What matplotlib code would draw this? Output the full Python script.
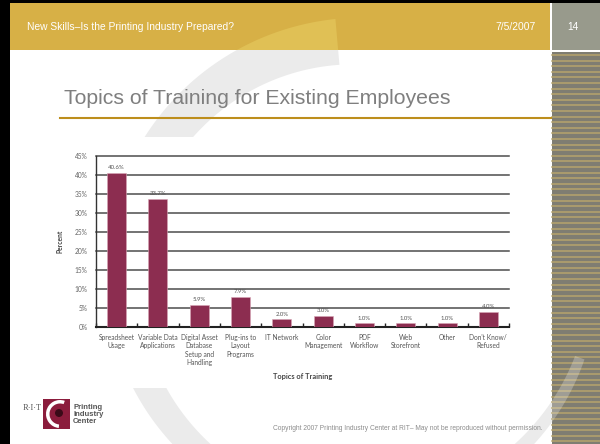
import numpy as np
import matplotlib.pyplot as plt
from matplotlib.patches import Rectangle, Polygon, Circle, Wedge

topics = ["Spreadsheet\nUsage", "Variable Data\nApplications",
          "Digital Asset\nDatabase\nSetup and\nHandling", "Plug-ins to\nLayout\nPrograms",
          "IT Network", "Color\nManagement", "PDF\nWorkflow", "Web\nStorefront",
          "Other", "Don't Know/\nRefused"]
percent = [40.6, 33.7, 5.9, 7.9, 2.0, 3.0, 1.0, 1.0, 1.0, 4.0]
y_ticks = [0, 5, 10, 15, 20, 25, 30, 35, 40, 45]

header = "New Skills\u2013Is the Printing Industry Prepared?"
date = "7/5/2007"
page = "14"
title = "Topics of Training for Existing Employees"
copyright = "Copyright 2007 Printing Industry Center at RIT\u2013 May not be reproduced without permission."

GOLD = '#d7b046'
BAR = '#8c2d50'

fig = plt.figure(figsize=(6, 4.44), dpi=100)

# slide background, drawn in pixel coordinates
bg = fig.add_axes([0, 0, 1, 1])
bg.set_xlim(0, 600)
bg.set_ylim(444, 0)
bg.axis('off')


def swoosh():
    # big "C" shape of the template, thick at the top, thin at the bottom right
    t = np.linspace(95, 340, 300)
    w = 46 - (t - 95) * 36 / 245
    r = np.radians(t)
    ro, ri = 236 + w / 2, 236 - w / 2
    outer = np.column_stack([358 + ro * np.cos(r), 277 - ro * np.sin(r)])
    inner = np.column_stack([358 + ri * np.cos(r), 277 - ri * np.sin(r)])
    return np.vstack([outer, inner[::-1]])


bg.add_patch(Rectangle((0, 0), 600, 444, color='white', zorder=0))
bg.add_patch(Polygon(swoosh(), closed=True, color='#ebebeb', lw=0, zorder=1))

head = Rectangle((10, 3), 540, 47, color=GOLD, lw=0, zorder=2)
bg.add_patch(head)
p = Polygon(swoosh(), closed=True, color='#e0c055', lw=0, zorder=3)
bg.add_patch(p)
p.set_clip_path(head)

bg.add_patch(Rectangle((552, 3), 48, 47, color='#989a8c', lw=0, zorder=2))
bar = Rectangle((552, 52), 48, 392, color='#7f7d72', lw=0, zorder=2)
bg.add_patch(bar)
for y in np.arange(55, 444, 5.6):
    bg.plot([552, 600], [y, y], color='#b6a46c', lw=1.1, zorder=2.5)
p = Polygon(swoosh(), closed=True, color='white', alpha=0.25, lw=0, zorder=3)
bg.add_patch(p)
p.set_clip_path(bar)

# black frame
bg.add_patch(Rectangle((0, 0), 10, 444, color='black', lw=0, zorder=5))
bg.add_patch(Rectangle((0, 0), 600, 3, color='black', lw=0, zorder=5))

bg.text(27, 27, header, color='white', fontsize=7.4, family='Liberation Sans',
        va='center', ha='left', zorder=6)
bg.text(536, 27, date, color='white', fontsize=7.4, family='Liberation Sans',
        va='center', ha='right', zorder=6)
bg.text(573, 27, page, color='white', fontsize=7.4, family='Liberation Sans',
        va='center', ha='center', zorder=6)

bg.text(257, 98, title, color='#7f7f7f', fontsize=15.3, family='Liberation Sans',
        va='center', ha='center', zorder=6)
bg.plot([60, 551], [118, 118], color='#bd8e1c', lw=1.5, zorder=6)

# white area behind the chart picture
bg.add_patch(Rectangle((55, 137), 480, 251, color='white', lw=0, zorder=4))

# logo
bg.text(32, 408, "R\u00b7I\u00b7T", color='#555555', fontsize=6, family='Liberation Serif',
        va='center', ha='center', zorder=6)
bg.add_patch(Rectangle((43, 399), 27, 30, color='#8b1c3c', lw=0, zorder=6))
bg.add_patch(Wedge((60, 414), 14, 95, 290, width=3.5, color='white', lw=0, zorder=7))
bg.add_patch(Circle((59, 413), 4, color='#3a0a18', lw=0, zorder=7))
bg.text(73, 404, "Printing\nIndustry\nCenter", color='#555555', fontsize=5.5,
        fontweight='bold', family='Liberation Sans', va='top', ha='left',
        linespacing=0.95, zorder=6)
bg.text(543, 428, copyright, color='#8c8c8c', fontsize=4.8, family='Liberation Sans',
        va='center', ha='right', zorder=6)

# chart
ax = fig.add_axes([96 / 600, 1 - 327 / 444, 413 / 600, 171 / 444])
ax.set_facecolor('none')
x = np.arange(len(topics))
ax.bar(x, percent, width=0.46, color=BAR, edgecolor='#d8a6b6', lw=0.4, zorder=3)
for xi, v in zip(x, percent):
    ax.text(xi, v + 0.7, f"{v:.1f}%", ha='center', va='bottom', fontsize=4.3,
            color='#555555', family='Lato')

ax.set_xlim(-0.5, len(topics) - 0.5)
ax.set_ylim(0, 45)
ax.set_yticks(y_ticks)
ax.set_yticklabels([f"{v}%" for v in y_ticks], fontsize=4.8, color='#666666', family='Lato')
for v in y_ticks[1:]:
    ax.axhline(v, color='#4d4d4d', lw=1.1, zorder=2, clip_on=False)
ax.tick_params(axis='y', length=0, pad=6)

ax.set_xticks(x)
ax.set_xticklabels(topics, fontsize=4.8, color='#555555', family='Lato', linespacing=1.25)
ax.set_xticks(np.arange(-0.5, len(topics), 1), minor=True)
ax.tick_params(axis='x', which='major', length=0, pad=5)
ax.tick_params(axis='x', which='minor', direction='in', length=3, width=1, color='#222222')

for s in ['top', 'right']:
    ax.spines[s].set_visible(False)
ax.spines['left'].set_color('#333333')
ax.spines['left'].set_linewidth(1.0)
ax.spines['bottom'].set_color('#222222')
ax.spines['bottom'].set_linewidth(1.5)

ax.set_ylabel("Percent", fontsize=4.8, fontweight='bold', color='#444444', family='Lato',
              labelpad=8)
ax.set_xlabel("Topics of Training", fontsize=5.3, fontweight='bold', color='#444444',
              family='Lato', labelpad=5)

fig.savefig('out.png', dpi=100)
